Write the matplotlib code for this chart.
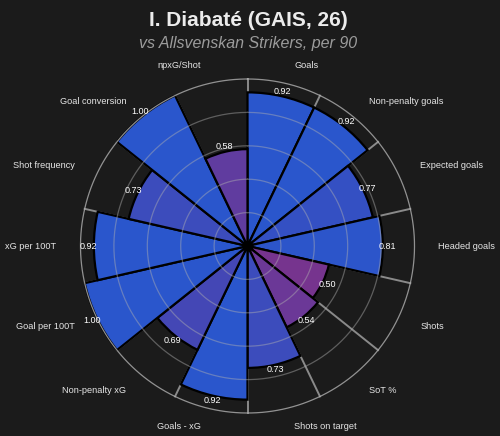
import numpy as np
import matplotlib
matplotlib.use('Agg')
from matplotlib import pyplot as plt
from matplotlib.colors import LinearSegmentedColormap, Normalize

params = ['Goals', 'Non-penalty goals', 'Expected goals', 'Headed goals', 'Shots',
          'SoT %', 'Shots on target', 'Goals - xG', 'Non-penalty xG', 'Goal per 100T',
          'xG per 100T', 'Shot frequency', 'Goal conversion', 'npxG/Shot']
values = [0.92, 0.92, 0.77, 0.81, 0.50, 0.54, 0.73, 0.92, 0.69, 1.00, 0.92, 0.73, 1.00, 0.58]
rings = [0.2, 0.4, 0.6, 0.8, 1.0]

title = 'I. Diabaté (GAIS, 26)'
subtitle = 'vs Allsvenskan Strikers, per 90'

bg = '#1b1b1b'
plt.rcParams['font.family'] = ['Liberation Sans', 'DejaVu Sans']

cmap = LinearSegmentedColormap.from_list('pz', ['#76348e', '#4a44b0', '#2a56cc'])
norm = Normalize(vmin=0.5, vmax=0.82, clip=True)

n = len(params)
width = 2 * np.pi / n
theta = np.arange(n) * width + width / 2

fig = plt.figure(figsize=(5, 4.36), dpi=100, facecolor=bg)
R = 167
ax = fig.add_axes([(247.5 - R) / 500, (190 - R) / 436, 2 * R / 500, 2 * R / 436],
                  projection='polar', facecolor=bg)
ax.set_theta_zero_location('N')
ax.set_theta_direction(-1)
ax.set_ylim(0, 1.0)
ax.grid(False)
ax.set_xticks([])
ax.set_yticks([])
ax.spines['polar'].set_visible(False)

# spokes at sector boundaries (under the bars)
for b in np.arange(n) * width:
    ax.plot([b, b], [0, 1.0], color='#8a8a8a', lw=1.4, zorder=1, clip_on=False)

ax.bar(theta, values, width=width, color=cmap(norm(np.array(values))),
       edgecolor='black', linewidth=1.6, zorder=2, clip_on=False)

# rings drawn on top, semi transparent
tt = np.linspace(0, 2 * np.pi, 400)
for r in rings:
    ax.plot(tt, np.full_like(tt, r), color='#b0b0b0', lw=0.9,
            alpha=0.45 if r < 1 else 0.8, zorder=3, clip_on=False)

ax.scatter([0], [0], s=40, color='black', zorder=4)

for t, v in zip(theta, values):
    ax.text(t, v + 0.03, f'{v:.2f}', color='white', fontsize=6.5,
            ha='center', va='center', zorder=5)

for t, p in zip(theta, params):
    deg = np.degrees(t)
    ha = 'left' if deg < 180 else 'right'
    dx = 4 if deg < 180 else -4
    ax.annotate(p, xy=(t, 1.11), xytext=(dx, 0), textcoords='offset points',
                color='#e6e6e6', fontsize=6.6, ha=ha, va='center',
                annotation_clip=False)

fig.text(0.497, 0.952, title, color='#ececec', fontsize=15, fontweight='bold',
         ha='center', va='center')
fig.text(0.497, 0.9, subtitle, color='#9c9c9c', fontsize=11.5, style='italic',
         ha='center', va='center')

fig.savefig('out.png', dpi=100, facecolor=bg)
